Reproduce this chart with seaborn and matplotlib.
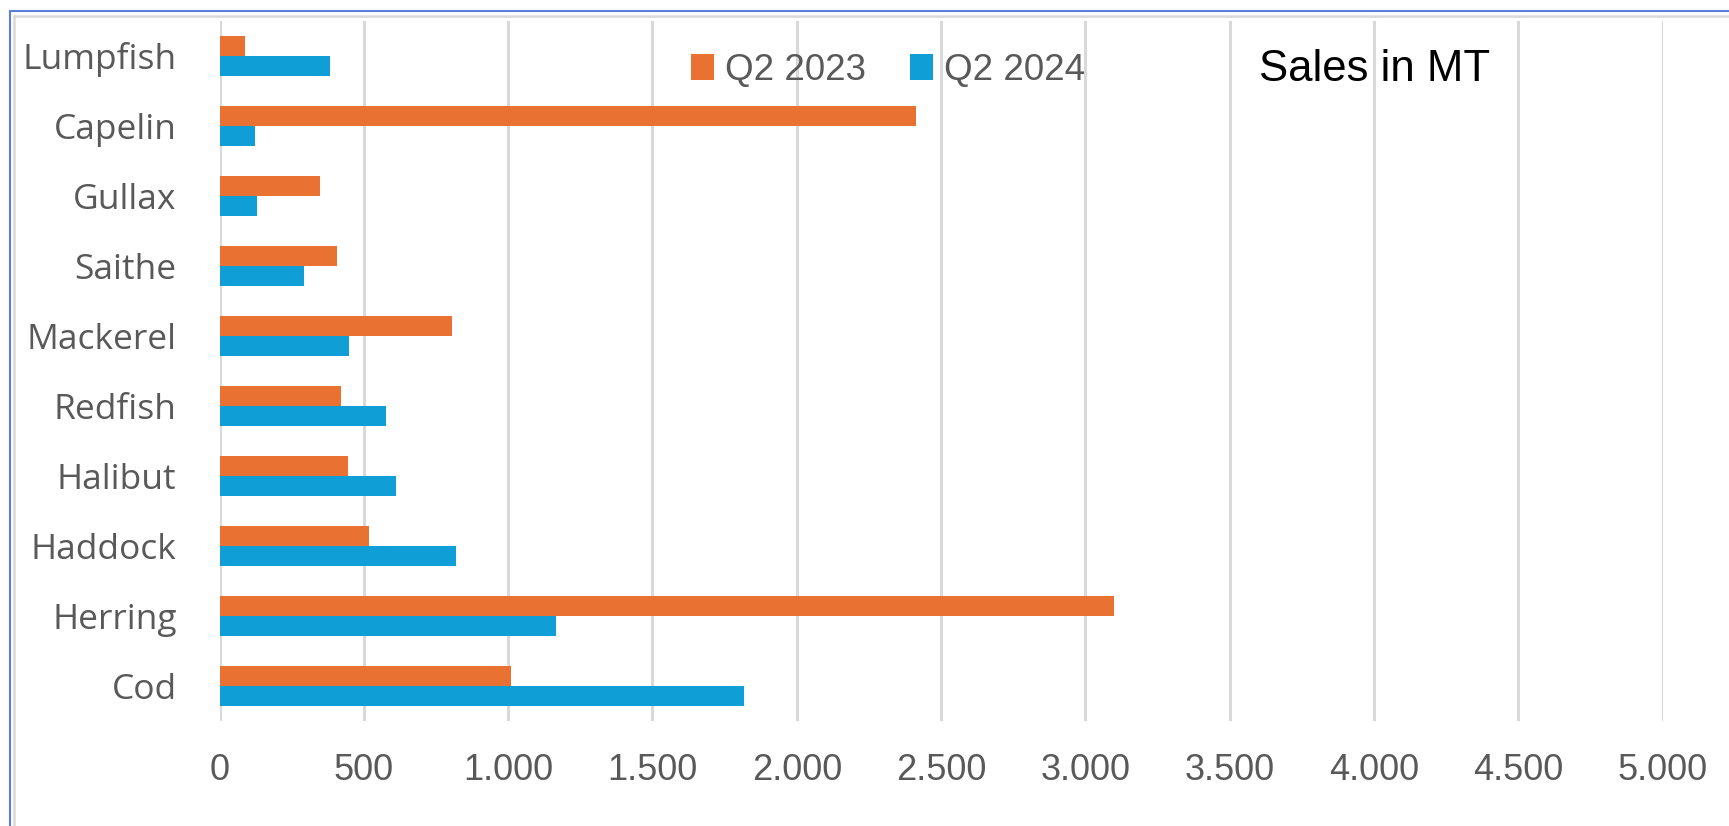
import pandas as pd
import matplotlib.pyplot as plt
import seaborn as sns
from matplotlib.patches import Patch
from matplotlib.lines import Line2D

# Data, top to bottom
species = ["Lumpfish", "Capelin", "Gullax", "Saithe", "Mackerel",
           "Redfish", "Halibut", "Haddock", "Herring", "Cod"]
q2_2023 = [88, 2412, 347, 406, 805, 420, 444, 519, 3098, 1010]
q2_2024 = [381, 121, 128, 291, 447, 577, 610, 820, 1165, 1817]
periods = ["Q2 2023", "Q2 2024"]
x_ticks = [0, 500, 1000, 1500, 2000, 2500, 3000, 3500, 4000, 4500, 5000]

colors = {"Q2 2023": "#E97132", "Q2 2024": "#0F9ED5"}
label_color = "#595959"

df = pd.DataFrame({
    "Species": species * 2,
    "Sales": q2_2023 + q2_2024,
    "Period": [periods[0]] * len(species) + [periods[1]] * len(species),
})

sns.set_theme(style="white")
plt.rcParams["font.family"] = ["Liberation Sans", "DejaVu Sans"]

fig = plt.figure(figsize=(17.29, 8.26), dpi=100)
ax = fig.add_axes([0.127, 0.1274, 0.8346, 0.8474])

sns.barplot(data=df, y="Species", x="Sales", hue="Period", order=species,
            hue_order=periods, palette=colors, orient="h", width=0.566,
            saturation=1, linewidth=0, legend=False, ax=ax)

ax.set_xlim(0, 5000)
ax.set_xticks(x_ticks)
ax.set_xticklabels([f"{v:,}".replace(",", ".") for v in x_ticks])
ax.set_xlabel("")
ax.set_ylabel("")
ax.grid(axis="x", color="#D9D9D9", linewidth=2.2)
ax.set_axisbelow(True)
for s in ax.spines.values():
    s.set_visible(False)

ax.tick_params(axis="x", length=0, pad=23, labelsize=26, labelcolor=label_color)
ax.tick_params(axis="y", length=0, pad=31, labelcolor=label_color)
for lbl in ax.get_yticklabels():
    lbl.set_fontfamily(["Open Sans", "DejaVu Sans"])
    lbl.set_fontsize(25.5)

# legend
handles = [Patch(facecolor=colors[p], edgecolor="none", label=p) for p in periods]
fig.legend(handles=handles, loc="center left", bbox_to_anchor=(0.389, 0.915),
           ncol=2, frameon=False, fontsize=26.5, handlelength=0.62, handleheight=0.7,
           handletextpad=0.3, columnspacing=1.2, borderpad=0, labelcolor=label_color)

fig.text(0.728, 0.916, "Sales in MT", fontsize=31.5, color="black", va="center", ha="left")

# chart frame (cropped on the right and bottom)
fig.add_artist(Line2D([0.0055, 1.0], [0.9861, 0.9861], color="#5B7FD6", lw=1.5,
                      transform=fig.transFigure))
fig.add_artist(Line2D([0.0055, 0.0055], [0.9861, 0.0], color="#5B7FD6", lw=1.5,
                      transform=fig.transFigure))
fig.add_artist(Line2D([0.0083, 1.0], [0.981, 0.981], color="#D9D9D9", lw=1.8,
                      transform=fig.transFigure))
fig.add_artist(Line2D([0.0083, 0.0083], [0.981, 0.0], color="#D9D9D9", lw=1.8,
                      transform=fig.transFigure))

fig.savefig("out.png", dpi=100)
